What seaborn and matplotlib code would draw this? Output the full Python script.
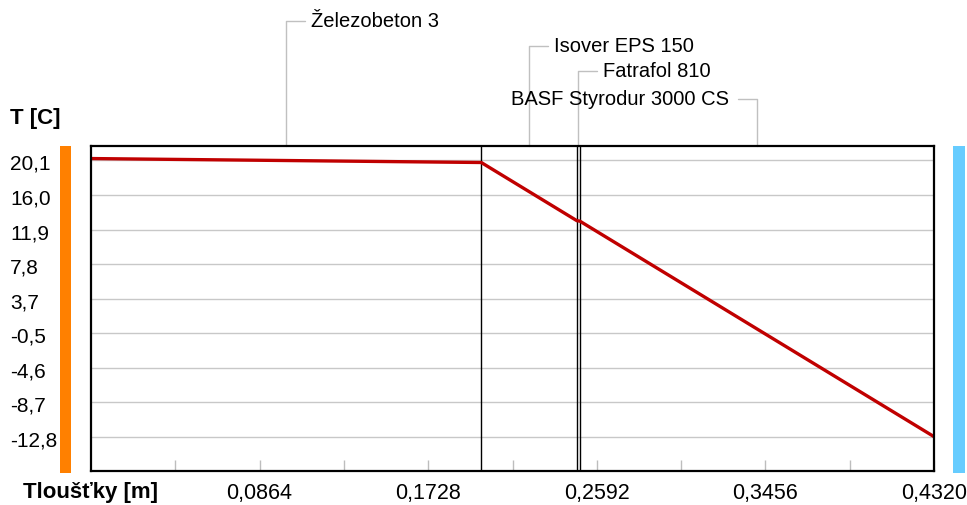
import matplotlib
matplotlib.use("Agg")
import matplotlib.pyplot as plt
import matplotlib.transforms as mtransforms
from matplotlib.patches import Rectangle
import pandas as pd
import seaborn as sns

# Wall composition (interior -> exterior) and temperature at layer interfaces
layers = ["Železobeton 3", "Isover EPS 150", "Fatrafol 810", "BASF Styrodur 3000 CS"]
boundaries = [0.0, 0.200, 0.249, 0.2505, 0.432]
temperatures = [20.30, 19.83, 12.92, 12.87, -12.72]

# Axis ticks
y_ticks = [20.08, 15.97, 11.87, 7.76, 3.66, -0.45, -4.55, -8.66, -12.76]
y_tick_labels = ["20,1", "16,0", "11,9", "7,8", "3,7", "-0,5", "-4,6", "-8,7", "-12,8"]
x_ticks = [0.0864, 0.1728, 0.2592, 0.3456, 0.4320]
x_tick_labels = ["0,0864", "0,1728", "0,2592", "0,3456", "0,4320"]
x_minor_ticks = [0.0432, 0.1296, 0.2160, 0.3024, 0.3888]

# Label leader levels (axes fraction above the plot) and side of the text
label_levels = [1.385, 1.308, 1.231, 1.145]
label_sides = [1, 1, 1, -1]

sns.set_style("white")
plt.rcParams["font.family"] = ["Liberation Sans", "DejaVu Sans"]
plt.rcParams["text.color"] = "black"
plt.rcParams["axes.labelcolor"] = "black"
plt.rcParams["xtick.labelcolor"] = "black"

W, H = 967, 506
fig = plt.figure(figsize=(W / 100, H / 100), dpi=100)
ax = fig.add_axes([91 / W, 34 / H, 843 / W, 325 / H])

df = pd.DataFrame({"x": boundaries, "T": temperatures})
sns.lineplot(data=df, x="x", y="T", ax=ax, color="#c00000", linewidth=2.4,
             sort=False, zorder=5)

ax.set_xlim(0, 0.432)
ax.set_ylim(-16.80, 21.79)

# Horizontal grid
ax.set_yticks(y_ticks)
ax.yaxis.grid(True, color="#c8c8c8", linewidth=1)
ax.xaxis.grid(False)
ax.set_axisbelow(True)
ax.tick_params(axis="y", length=0, labelleft=False)

# Y tick labels, left aligned at the figure edge
ylab_trans = ax.get_yaxis_transform() + mtransforms.ScaledTranslation(0, -3 / 100, fig.dpi_scale_trans)
for val, txt in zip(y_ticks, y_tick_labels):
    ax.text(-81 / 843, val, txt, transform=ylab_trans, ha="left", va="center",
            fontsize=15, color="black", clip_on=False)

# X ticks: small gray inward marks
ax.set_xticks(x_ticks)
ax.set_xticklabels(x_tick_labels, fontsize=15.5)
ax.set_xticks(x_minor_ticks, minor=True)
ax.tick_params(axis="x", which="both", direction="in", length=8, width=1,
               color="#bdbdbd", labelcolor="black", pad=8, bottom=True)

# Layer interfaces
for b in boundaries[1:-1]:
    ax.axvline(b, color="black", linewidth=1, zorder=4)

for side in ["left", "right", "top", "bottom"]:
    ax.spines[side].set_color("black")
    ax.spines[side].set_linewidth(1.6)
    ax.spines[side].set_zorder(6)

# Layer names with elbow leaders
xtrans = ax.get_xaxis_transform()
px_per_m = 843 / 0.432
for i, name in enumerate(layers):
    xm = (boundaries[i] + boundaries[i + 1]) / 2
    lvl = label_levels[i]
    s = label_sides[i]
    ax.plot([xm, xm, xm + s * 19 / px_per_m], [1, lvl, lvl], transform=xtrans,
            clip_on=False, color="#c0c0c0", linewidth=1)
    ax.text(xm + s * (25 if s > 0 else 28) / px_per_m, lvl, name, transform=xtrans,
            ha="left" if s > 0 else "right", va="center", fontsize=14.5,
            color="black", clip_on=False)

# Interior / exterior side bars
ax.add_patch(Rectangle((-31 / 843, -0.006), 11 / 843, 1.006, transform=ax.transAxes,
                       clip_on=False, color="#ff8000", linewidth=0))
ax.add_patch(Rectangle((862 / 843, -0.006), 12 / 843, 1.006, transform=ax.transAxes,
                       clip_on=False, color="#66ccff", linewidth=0))

# Axis titles
ax.set_ylabel("T [C]", rotation=0, ha="left", va="center", fontsize=16,
              fontweight="bold", color="black")
ax.yaxis.set_label_coords(-81 / 843, 1.089)
ax.set_xlabel("Tloušťky [m]", ha="left", va="center", fontsize=16,
              fontweight="bold", color="black")
ax.xaxis.set_label_coords(-68 / 843, -0.0646)

fig.savefig("out.png", dpi=100)
